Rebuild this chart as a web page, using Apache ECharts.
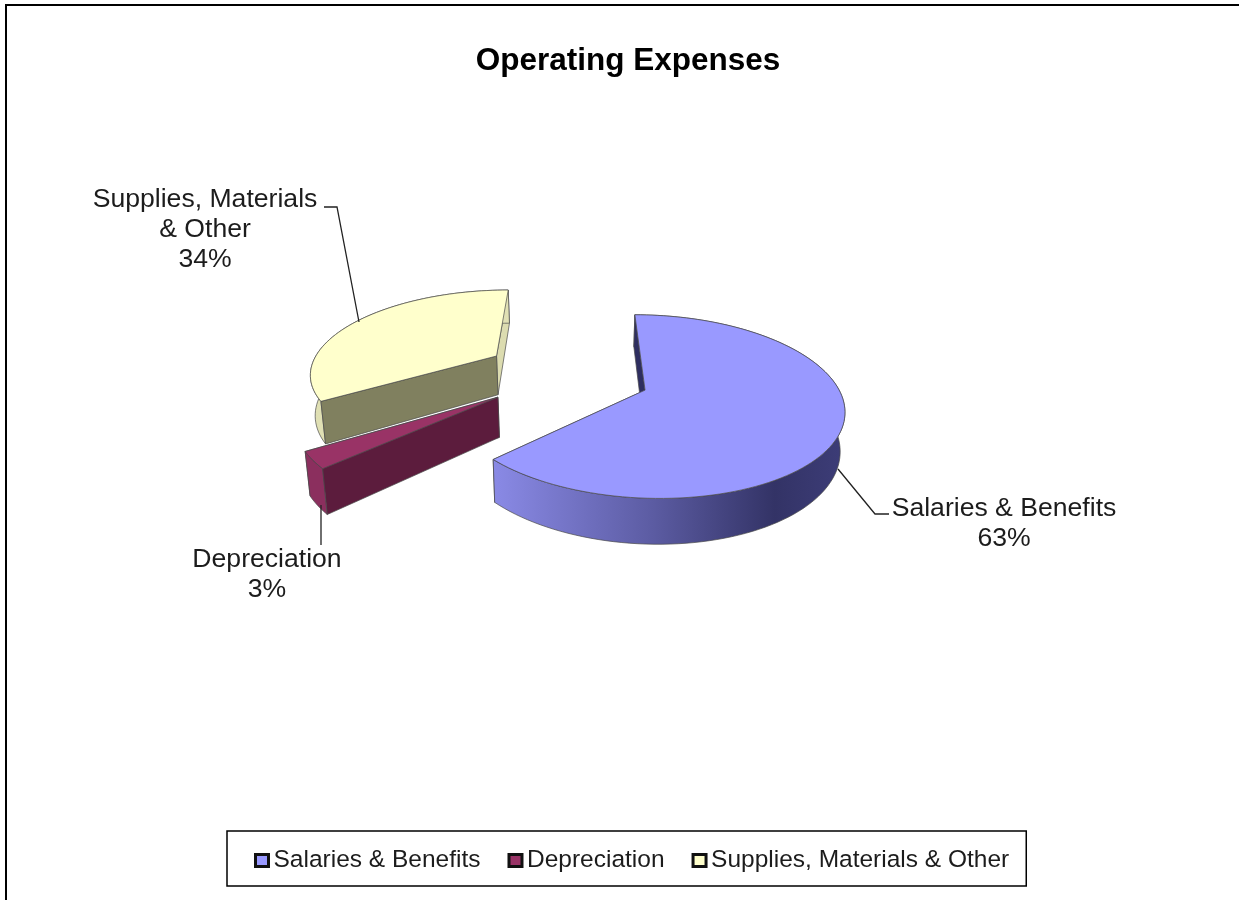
<!DOCTYPE html>
<html><head><meta charset="utf-8">
<style>html,body{margin:0;padding:0;background:#fff}#c{width:1239px;height:900px}</style>
<script src="https://cdn.jsdelivr.net/npm/echarts@6/dist/echarts.min.js"></script>
</head><body><div id="c"></div>
<script>
const categories = ['Salaries & Benefits', 'Depreciation', 'Supplies, Materials & Other'];
const values = [63, 3, 34];
const labelNames = ['Salaries & Benefits', 'Depreciation', 'Supplies, Materials\n& Other'];
const colors = ['#9999FF', '#993366', '#FFFFCC'];

// Perspective camera fitted to the picture
const cam = {px: 578, vy: -105, C: 0.392, u0: 0.00202, b: 0.0003625, q: 0.018, X0: -0.072, Y0: 0.18, E: 0.455};
const sliceTweak = [
  {dX: 0, dY: 0, H: 0.076},
  {dX: 0.025, dY: 0.02, H: 0.08},
  {dX: 0.02, dY: 0.012, H: 0.084}
];
const project = (X, Y, H) => {
  const d = 1 / (cam.u0 + cam.b * Y);
  const sx = cam.C * X * d;
  return H ? [cam.px + sx * (1 - cam.q), cam.vy + d * (1 + H)] : [cam.px + sx, cam.vy + d];
};
const rad = a => a * Math.PI / 180;
const total = values.reduce((a, b) => a + b, 0);

const wallStyles = [
  {outer: {type: 'linear', x: 0, y: 0, x2: 1, y2: 0, colorStops: [
      {offset: 0, color: '#8a8ae6'}, {offset: 0.45, color: '#5c5ca3'}, {offset: 0.8, color: '#333366'}, {offset: 1, color: '#3d3d78'}]},
   first: '#2e2e60', last: '#333366'},
  {outer: '#8b2f5e', first: '#5c1c3d', last: '#5c1c3d'},
  {outer: '#e0e0b4', first: '#80805f', last: '#dcdcb0'}
];
const labelLayout = [
  {x: 1004, y: 524, line: [[838, 469], [875, 514], [889, 514]]},
  {x: 267, y: 575, line: [[321, 505], [321, 545]]},
  {x: 205, y: 230, line: [[324, 207], [337, 207], [359, 322]]}
];
const EDGE = '#4a4a4a';

function renderSlice(idx) {
  return function (params, api) {
    const v = api.value(0);
    const start = values.slice(0, idx).reduce((a, b) => a + b, 0) / total * 360;
    const end = start + v / total * 360;
    const mid = rad((start + end) / 2);
    const tw = sliceTweak[idx];
    const cx = cam.X0 + cam.E * Math.sin(mid) + tw.dX, cy = cam.Y0 + cam.E * Math.cos(mid) + tw.dY;
    const rim = (a, h) => project(cx + Math.sin(rad(a)), cy + Math.cos(rad(a)), h);
    const topArc = [], lowArc = [];
    const n = Math.max(4, Math.ceil((end - start) / 2));
    for (let i = 0; i <= n; i++) {
      const a = start + (end - start) * i / n;
      topArc.push(rim(a, 0));
      lowArc.push(rim(a, tw.H));
    }
    const apex = project(cx, cy, 0), apexLow = project(cx, cy, tw.H);
    const st = wallStyles[idx];
    const poly = (points, fill) => ({type: 'polygon', shape: {points}, style: {fill, stroke: EDGE, lineWidth: 0.7}});
    const L = labelLayout[idx];
    return {type: 'group', children: [
      poly([apex, topArc[n], lowArc[n], apexLow], st.last),
      poly(topArc.concat(lowArc.slice().reverse()), st.outer),
      poly([apex, topArc[0], lowArc[0], apexLow], st.first),
      poly([apex].concat(topArc), colors[idx]),
      {type: 'polyline', shape: {points: L.line}, style: {fill: 'none', stroke: '#222', lineWidth: 1.3}},
      {type: 'text', style: {text: labelNames[idx] + '\n' + v + '%', x: L.x, y: L.y,
        fill: '#1c1c1c', font: '26.6px "Liberation Sans"', lineHeight: 30, align: 'center', verticalAlign: 'middle'}}
    ]};
  };
}

const chart = echarts.init(document.getElementById('c'), null, {renderer: 'canvas'});
chart.setOption({
  animation: false,
  backgroundColor: '#fff',
  title: {text: 'Operating Expenses', left: 628, top: 45, padding: 0, textAlign: 'center',
    textStyle: {fontFamily: 'Liberation Sans', fontSize: 31.5, fontWeight: 'bold', color: '#000'}},
  legend: {
    left: 227, top: 831, orient: 'horizontal',
    padding: [17, 17, 13, 27], itemGap: 27, itemWidth: 13, itemHeight: 12, icon: 'rect',
    borderColor: '#000', borderWidth: 1.5, backgroundColor: '#fff',
    itemStyle: {borderColor: '#111', borderWidth: 3},
    textStyle: {fontFamily: 'Liberation Sans', fontSize: 24.5, color: '#1c1c1c'},
    data: categories
  },
  graphic: [{type: 'polyline', silent: true, shape: {points: [[6, 900], [6, 5], [1239, 5]]},
    style: {fill: 'none', stroke: '#000', lineWidth: 2}}],
  series: categories.map((name, i) => ({
    type: 'custom', name, coordinateSystem: 'none', z: 3 - i,
    itemStyle: {color: colors[i]},
    renderItem: renderSlice(i),
    data: [[values[i]]]
  }))
});
</script></body></html>
